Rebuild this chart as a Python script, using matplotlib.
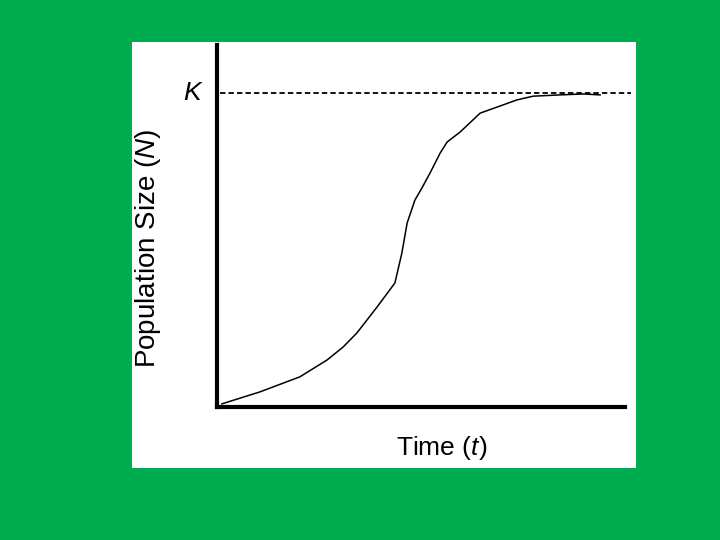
import matplotlib
matplotlib.use("Agg")
import matplotlib.pyplot as plt

# Data (time in arbitrary units, population as % of carrying capacity K)
time = [1.2, 10.5, 20.3, 27.0, 30.9, 34.3, 39.2, 43.6, 45.3, 46.6, 48.5, 50.2,
        52.2, 54.7, 56.4, 59.6, 64.5, 68.6, 73.5, 77.5, 84.1, 89.7, 93.9]
population = [1.0, 4.8, 9.6, 15.0, 19.1, 23.6, 31.8, 39.5, 49.0, 58.6, 65.9, 69.7,
              74.5, 80.9, 84.4, 87.6, 93.6, 95.5, 97.8, 99.0, 99.4, 99.7, 99.4]
K = 100
k_label = "$\\mathit{K}$"
x_label = "Time ($\\mathit{t}$)"
y_label = "Population Size ($\\mathit{N}$)"

plt.rcParams['font.family'] = ['Liberation Sans', 'DejaVu Sans']
plt.rcParams['mathtext.fontset'] = 'custom'
plt.rcParams['mathtext.it'] = 'Liberation Sans:italic'
plt.rcParams['mathtext.rm'] = 'Liberation Sans'

fig = plt.figure(figsize=(7.2, 5.4), dpi=100)
fig.patch.set_facecolor('#00AC50')

# white panel
bg = fig.add_axes([0.1833, 0.1333, 0.7, 0.789], zorder=0)
bg.axis('off')
bg.add_patch(plt.Rectangle((0, 0), 1, 1, transform=bg.transAxes,
                           facecolor='white', edgecolor='none'))

ax = fig.add_axes([0.3014, 0.2463, 0.5667, 0.6704], zorder=1)
ax.set_facecolor('none')
ax.set_xlim(0, 100)
ax.set_ylim(0, 115.3)

ax.plot(time, population, color='black', lw=1.1)
ax.plot([0.8, 101.5], [K, K], color='black', lw=1.3, ls=(0, (3, 1.7)), clip_on=False)

for s in ['top', 'right']:
    ax.spines[s].set_visible(False)
for s in ['left', 'bottom']:
    ax.spines[s].set_linewidth(3)
ax.set_xticks([])
ax.set_yticks([])

ax.text(-3.4, K, k_label, ha='right', va='center', fontsize=19)
fig.text(0.613, 0.171, x_label, ha='center', va='center', fontsize=19)
fig.text(0.206, 0.541, y_label, ha='center', va='center', rotation=90, fontsize=20)

fig.savefig('out.png', dpi=100, facecolor=fig.get_facecolor())
